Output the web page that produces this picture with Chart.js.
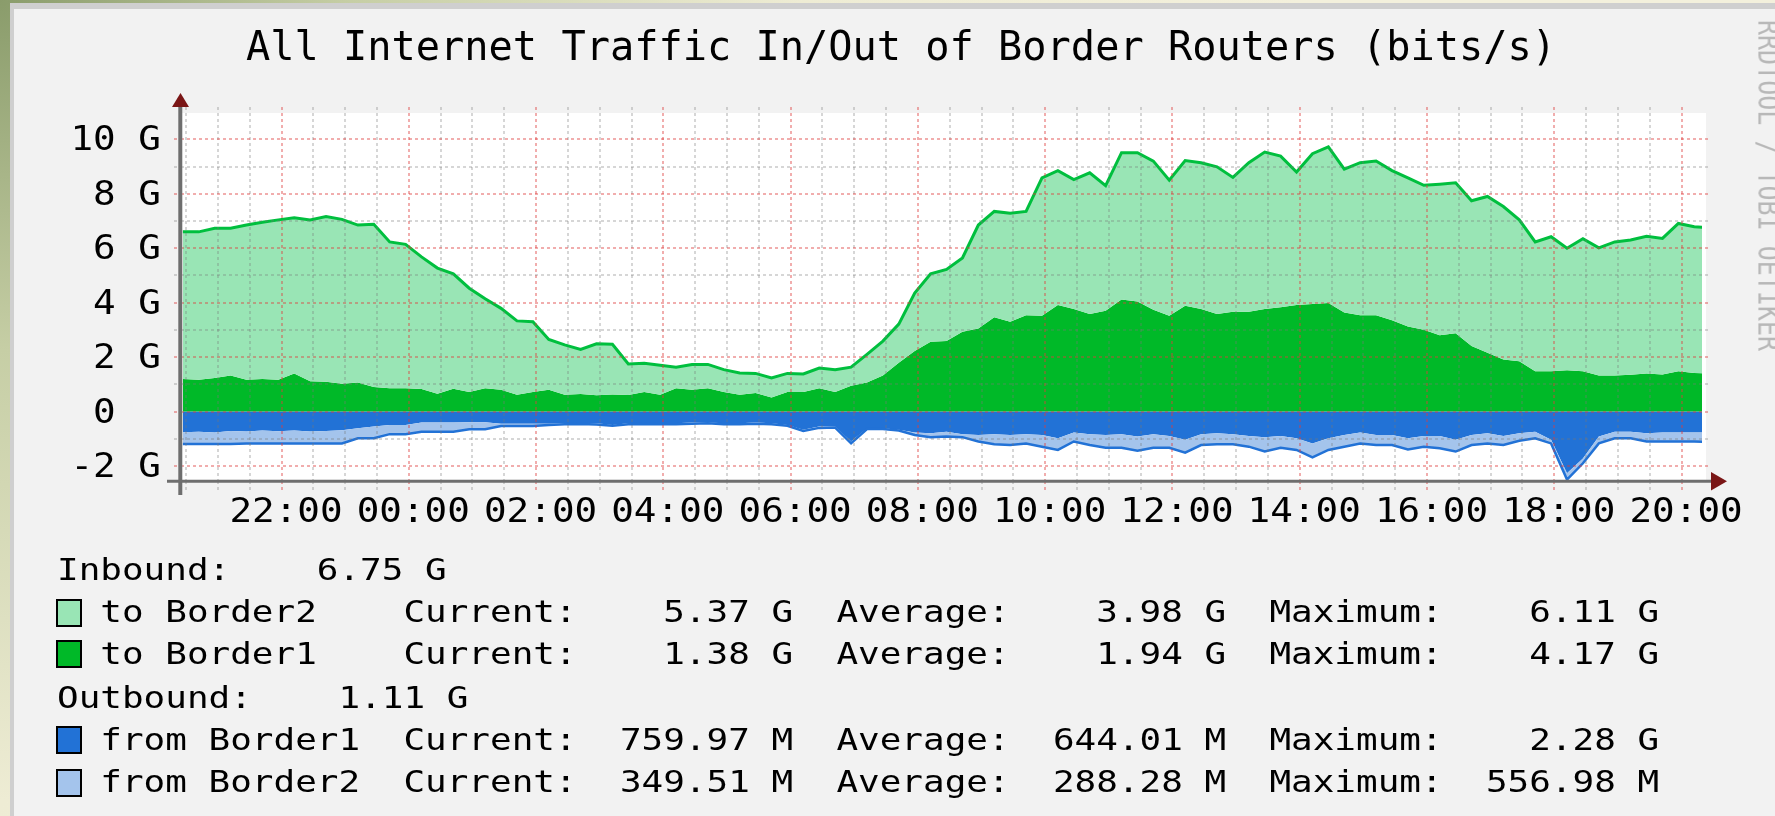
<!DOCTYPE html>
<html>
<head>
<meta charset="utf-8">
<script src="https://cdn.jsdelivr.net/npm/chart.js@4/dist/chart.umd.min.js"></script>
<style>
  body { margin: 0; }
  #page {
    position: relative; width: 1775px; height: 816px; overflow: hidden;
    background: radial-gradient(circle at 0 0, #8a9c6b 0px, #c6cea5 350px, #eeecd4 800px, #f3f0dc 1300px);
  }
  #frame { position: absolute; left: 10px; top: 3px; right: 0; bottom: 0; background: #cfcfcf; }
  #inner { position: absolute; left: 14px; top: 9px; right: 0; bottom: 0; background: #f2f2f2; }
  canvas { position: absolute; left: 0; top: 0; }
  .mono { font-family: "DejaVu Sans Mono", monospace; white-space: pre; color: #000; position: absolute; }
  #title { left: 246px; top: 27px; font-size: 40.3px; line-height: 40.3px; }
  #mark { left: 1784px; top: 20px; font-size: 25px; line-height: 25px; color: #b8b8b8;
          transform-origin: 0 0; transform: rotate(90deg) scaleY(1.2); }
  .row { left: 57px; font-size: 29.5px; line-height: 29.5px; transform-origin: 0 0; transform: scaleX(1.219); }
  .swatch { position: absolute; left: 56px; width: 26px; height: 28px; box-sizing: border-box; border: 2.5px solid #000; }
</style>
</head>
<body>
<div id="page">
  <div id="frame"></div>
  <div id="inner"></div>
  <canvas id="myCanvas" width="1775" height="816"></canvas>
  <div id="title" class="mono">All Internet Traffic In/Out of Border Routers (bits/s)</div>
  <div id="mark" class="mono">RRDTOOL / TOBI OETIKER</div>
  <div id="legend"></div>
</div>
<script>
// samples every 15 minutes, hours counted from midnight of the first day
const startHour = 20.45;
const stepHours = 0.25;

// inbound, G bits/s
const toBorder1 = [1.20, 1.17, 1.23, 1.32, 1.17, 1.20, 1.17, 1.40, 1.11, 1.09, 1.02, 1.07, 0.90, 0.86, 0.86, 0.83, 0.65, 0.84, 0.72, 0.86, 0.80, 0.62, 0.72, 0.80,
    0.62, 0.64, 0.60, 0.63, 0.61, 0.72, 0.62, 0.86, 0.80, 0.86, 0.72, 0.62, 0.68, 0.52, 0.72, 0.72, 0.86, 0.72, 0.95, 1.07, 1.32, 1.79, 2.22, 2.56,
    2.59, 2.93, 3.05, 3.46, 3.30, 3.54, 3.52, 3.91, 3.77, 3.58, 3.70, 4.12, 4.04, 3.74, 3.52, 3.89, 3.77, 3.58, 3.67, 3.67, 3.77, 3.83, 3.91, 3.95,
    3.99, 3.64, 3.54, 3.54, 3.35, 3.12, 3.00, 2.80, 2.88, 2.41, 2.16, 1.91, 1.85, 1.48, 1.48, 1.52, 1.48, 1.32, 1.32, 1.35, 1.40, 1.36, 1.48, 1.42, 1.40];
const toBorder2 = [5.40, 5.43, 5.50, 5.41, 5.68, 5.75, 5.87, 5.72, 5.93, 6.07, 6.04, 5.78, 5.98, 5.37, 5.28, 4.85, 4.62, 4.22, 3.81, 3.28, 2.99, 2.71, 2.58, 1.85,
    1.83, 1.64, 1.89, 1.84, 1.14, 1.05, 1.08, 0.77, 0.93, 0.87, 0.82, 0.80, 0.72, 0.71, 0.68, 0.66, 0.74, 0.82, 0.68, 1.03, 1.27, 1.42, 2.13, 2.50,
    2.63, 2.71, 3.80, 3.89, 3.98, 3.81, 5.06, 4.94, 4.75, 5.19, 4.60, 5.39, 5.47, 5.46, 4.98, 5.33, 5.37, 5.41, 4.93, 5.47, 5.76, 5.55, 4.89, 5.52,
    5.73, 5.26, 5.60, 5.66, 5.50, 5.46, 5.31, 5.55, 5.52, 5.33, 5.74, 5.62, 5.19, 4.75, 4.94, 4.48, 4.87, 4.69, 4.91, 4.95, 5.04, 5.00, 5.43, 5.37, 5.35];

// outbound, G bits/s (drawn below zero)
const fromBorder1 = [0.76, 0.74, 0.77, 0.71, 0.73, 0.70, 0.72, 0.70, 0.73, 0.71, 0.69, 0.61, 0.55, 0.49, 0.49, 0.40, 0.40, 0.40, 0.39, 0.39, 0.45, 0.45, 0.45, 0.45,
    0.43, 0.43, 0.43, 0.49, 0.43, 0.43, 0.43, 0.43, 0.40, 0.40, 0.43, 0.43, 0.40, 0.43, 0.49, 0.67, 0.55, 0.55, 1.10, 0.61, 0.61, 0.67, 0.77, 0.80,
    0.74, 0.83, 0.86, 0.83, 0.86, 0.83, 0.86, 0.98, 0.77, 0.83, 0.86, 0.83, 0.92, 0.83, 0.90, 1.04, 0.83, 0.80, 0.83, 0.90, 0.94, 0.90, 0.98, 1.17,
    0.98, 0.86, 0.77, 0.86, 0.86, 0.98, 0.90, 0.90, 1.04, 0.86, 0.80, 0.90, 0.80, 0.74, 1.04, 2.27, 1.72, 0.92, 0.74, 0.74, 0.80, 0.77, 0.77, 0.77, 0.76];
const fromBorder2 = [0.43, 0.45, 0.42, 0.48, 0.44, 0.47, 0.45, 0.47, 0.44, 0.46, 0.48, 0.37, 0.43, 0.34, 0.34, 0.34, 0.34, 0.34, 0.26, 0.26, 0.08, 0.08, 0.08, 0.04,
    0.04, 0.03, 0.05, 0.03, 0.04, 0.03, 0.04, 0.04, 0.05, 0.03, 0.04, 0.04, 0.05, 0.04, 0.03, 0.04, 0.05, 0.04, 0.07, 0.03, 0.03, 0.03, 0.09, 0.14,
    0.18, 0.11, 0.24, 0.37, 0.37, 0.34, 0.43, 0.43, 0.33, 0.40, 0.47, 0.50, 0.52, 0.50, 0.43, 0.47, 0.40, 0.40, 0.37, 0.39, 0.53, 0.43, 0.43, 0.51,
    0.43, 0.43, 0.40, 0.37, 0.37, 0.41, 0.39, 0.45, 0.43, 0.37, 0.37, 0.33, 0.27, 0.24, 0.13, 0.23, 0.18, 0.25, 0.24, 0.24, 0.30, 0.33, 0.33, 0.33, 0.35];

// axes
const xMajorHours = [22, 24, 26, 28, 30, 32, 34, 36, 38, 40, 42, 44];
const xMajorLabels = ['22:00', '00:00', '02:00', '04:00', '06:00', '08:00', '10:00', '12:00', '14:00', '16:00', '18:00', '20:00'];
const yMajorValues = [-2, 0, 2, 4, 6, 8, 10];
const yMajorLabels = ['-2 G', '0  ', '2 G', '4 G', '6 G', '8 G', '10 G'];

// legend
const legendNames = ['to Border2', 'to Border1', 'from Border1', 'from Border2'];
const legendCurrent = ['5.37 G', '1.38 G', '759.97 M', '349.51 M'];
const legendAverage = ['3.98 G', '1.94 G', '644.01 M', '288.28 M'];
const legendMaximum = ['6.11 G', '4.17 G', '2.28 G', '556.98 M'];
const inboundTotal = '6.75 G';
const outboundTotal = '1.11 G';

const C_GREEN = '#00b928', C_LGREEN = '#99e5b5', C_GLINE = '#00bf3e';
const C_BLUE = '#2272d6', C_LBLUE = '#a4c4ec';
const RED = 'rgba(222,60,60,0.42)', GRAY = 'rgba(120,120,120,0.30)';

function buildLegend() {
    const fmt = s => { const p = s.split(' '); return p[0].padStart(8) + ' ' + p[1]; };
    const rows = [
        { text: 'Inbound:' + fmt(inboundTotal), base: 580.7 },
        { text: '  ' + legendNames[0].padEnd(14) + 'Current:' + fmt(legendCurrent[0]) + '  Average:' + fmt(legendAverage[0]) + '  Maximum:' + fmt(legendMaximum[0]), base: 623.4, sw: C_LGREEN },
        { text: '  ' + legendNames[1].padEnd(14) + 'Current:' + fmt(legendCurrent[1]) + '  Average:' + fmt(legendAverage[1]) + '  Maximum:' + fmt(legendMaximum[1]), base: 664.8, sw: C_GREEN },
        { text: 'Outbound:' + fmt(outboundTotal), base: 708.8 },
        { text: '  ' + legendNames[2].padEnd(14) + 'Current:' + fmt(legendCurrent[2]) + '  Average:' + fmt(legendAverage[2]) + '  Maximum:' + fmt(legendMaximum[2]), base: 750.8, sw: C_BLUE },
        { text: '  ' + legendNames[3].padEnd(14) + 'Current:' + fmt(legendCurrent[3]) + '  Average:' + fmt(legendAverage[3]) + '  Maximum:' + fmt(legendMaximum[3]), base: 793.4, sw: C_LBLUE },
    ];
    let html = '';
    rows.forEach(r => {
        html += `<div class="mono row" style="top:${(r.base - 25).toFixed(1)}px">${r.text}</div>`;
        if (r.sw) html += `<div class="swatch" style="top:${(r.base - 24.7).toFixed(1)}px;background:${r.sw}"></div>`;
    });
    document.getElementById('legend').innerHTML = html;
}

function isMajor(v, step) {
    return Math.abs(v / step - Math.round(v / step)) < 1e-6;
}

function load() {
    buildLegend();

    const hours = toBorder1.map((_, i) => startHour + i * stepHours);
    const inTop = toBorder1.map((v, i) => v + toBorder2[i]);
    const outTop = fromBorder1.map((v, i) => -(v + fromBorder2[i]));

    const xTicks = [];
    for (let h = 20.5; h <= 44.0001; h += 0.5) xTicks.push({ value: h });
    const yTicks = [];
    for (let v = -2; v <= 10; v++) yTicks.push({ value: v });

    const clip = { left: 0, top: 0, right: -9, bottom: 0 };
    const plain = { pointRadius: 0, tension: 0, clip: clip };

    const framePlugin = {
        id: 'frame',
        beforeDatasetsDraw(chart) {
            const ctx = chart.ctx, a = chart.chartArea;
            ctx.save();
            ctx.fillStyle = '#ffffff';
            ctx.fillRect(a.left, 113, 1706 - a.left, a.bottom - 113);
            ctx.restore();
        },
        afterDraw(chart) {
            const ctx = chart.ctx, a = chart.chartArea;
            const xs = chart.scales.x, ys = chart.scales.y;
            ctx.save();
            // axis lines
            ctx.strokeStyle = '#6e6e6e';
            ctx.lineWidth = 4;
            ctx.beginPath(); ctx.moveTo(180.3, 100); ctx.lineTo(180.3, 495); ctx.stroke();
            ctx.lineWidth = 3;
            ctx.beginPath(); ctx.moveTo(167, 481.3); ctx.lineTo(1711, 481.3); ctx.stroke();
            // arrows
            ctx.fillStyle = '#7a1616';
            ctx.beginPath(); ctx.moveTo(180.5, 93); ctx.lineTo(189, 107); ctx.lineTo(172, 107); ctx.closePath(); ctx.fill();
            ctx.beginPath(); ctx.moveTo(1711, 472); ctx.lineTo(1727, 481.3); ctx.lineTo(1711, 490.5); ctx.closePath(); ctx.fill();
            // tick labels
            ctx.fillStyle = '#000';
            ctx.font = '33px "DejaVu Sans Mono"';
            ctx.textBaseline = 'alphabetic';
            ctx.textAlign = 'right';
            yMajorValues.forEach((v, k) => {
                ctx.save();
                ctx.translate(161, ys.getPixelForValue(v) + 11);
                ctx.scale(1.14, 1);
                ctx.fillText(yMajorLabels[k], 0, 0);
                ctx.restore();
            });
            ctx.textAlign = 'center';
            xMajorHours.forEach((h, k) => {
                ctx.save();
                ctx.translate(xs.getPixelForValue(h) + 4.5, 522);
                ctx.scale(1.14, 1);
                ctx.fillText(xMajorLabels[k], 0, 0);
                ctx.restore();
            });
            ctx.restore();
        }
    };

    const ctx = document.getElementById('myCanvas').getContext('2d');
    const chart = new Chart(ctx, {
        type: 'line',
        data: {
            datasets: [{
                label: 'to Border1',
                data: hours.map((h, i) => ({ x: h, y: toBorder1[i] })),
                backgroundColor: C_GREEN,
                borderWidth: 0,
                fill: 'origin',
                order: 2,
                ...plain
            }, {
                label: 'to Border2',
                data: hours.map((h, i) => ({ x: h, y: inTop[i] })),
                backgroundColor: C_LGREEN,
                borderColor: C_GLINE,
                borderWidth: 3,
                fill: '-1',
                order: 1,
                ...plain
            }, {
                label: 'from Border1',
                data: hours.map((h, i) => ({ x: h, y: -fromBorder1[i] })),
                backgroundColor: C_BLUE,
                borderWidth: 0,
                fill: 'origin',
                order: 2,
                ...plain
            }, {
                label: 'from Border2',
                data: hours.map((h, i) => ({ x: h, y: outTop[i] })),
                backgroundColor: C_LBLUE,
                borderColor: C_BLUE,
                borderWidth: 2.5,
                fill: '-1',
                order: 1,
                ...plain
            }]
        },
        options: {
            responsive: false,
            animation: false,
            devicePixelRatio: 1,
            layout: { padding: { left: 181, right: 64, top: 107, bottom: 335 } },
            plugins: { legend: { display: false }, tooltip: { enabled: false } },
            scales: {
                x: {
                    type: 'linear',
                    bounds: 'data',
                    min: 20.4207,
                    max: 44.4627,
                    afterBuildTicks: s => { s.ticks = xTicks.map(t => ({ value: t.value })); },
                    afterFit: s => { s.height = 0; },
                    ticks: { display: false, autoSkip: false },
                    grid: {
                        color: c => isMajor(c.tick.value, 2) ? RED : GRAY,
                        lineWidth: 2,
                        z: 1,
                        tickLength: 10,
                        tickBorderDash: [3, 3]
                    },
                    border: { display: false, dash: [3, 3] }
                },
                y: {
                    type: 'linear',
                    bounds: 'data',
                    min: -2.551,
                    max: 11.186,
                    afterBuildTicks: s => { s.ticks = yTicks.map(t => ({ value: t.value })); },
                    afterFit: s => { s.width = 0; },
                    ticks: { display: false, autoSkip: false },
                    grid: {
                        color: c => isMajor(c.tick.value, 2) ? RED : GRAY,
                        lineWidth: 2,
                        z: 1,
                        tickLength: 7,
                        tickBorderDash: [3, 3]
                    },
                    border: { display: false, dash: [3, 3] }
                }
            }
        },
        plugins: [framePlugin]
    });
}

load();
</script>
</body>
</html>
